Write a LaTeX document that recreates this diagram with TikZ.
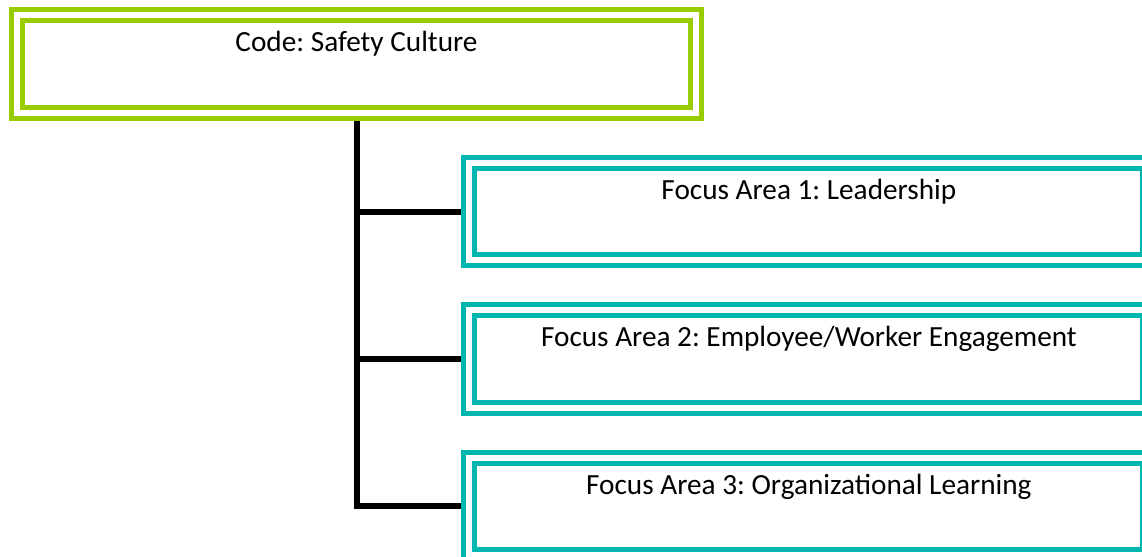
\documentclass[tikz,border=0pt]{standalone}
\usepackage{fontspec}
\setmainfont{Carlito}
\usepackage{xcolor}
\usepackage{tikz}
\usetikzlibrary{positioning,calc}
\frenchspacing

\definecolor{codegreen}{RGB}{153,204,0}
\definecolor{focusteal}{RGB}{0,183,175}

\begin{document}
\begin{tikzpicture}[x=0.025cm, y=-0.025cm, node distance=3.685cm,
  box/.style={rectangle, draw, double=white, line width=0.125cm, double distance=0.15cm, fill=white, minimum width=16.975cm, minimum height=2.4375cm, inner sep=0pt, outer sep=0.2cm},
  codebox/.style={box, draw=codegreen},
  focusbox/.style={box, draw=focusteal},
  lbl/.style={anchor=base, inner sep=0pt, font=\fontsize{20.8pt}{25pt}\selectfont},
  link/.style={draw=black, line width=0.15cm}]

  \clip (0,0) rectangle (1142,557);
  \useasboundingbox (0,0) rectangle (1142,557);

  \node [codebox] (code) at (356.5,64) {};
  \node [focusbox] (f1) at (808.85,211.6) {};
  \node [focusbox, below of=f1] (f2) {};
  \node [focusbox, below of=f2] (f3) {};

  % tree lines from the code box down to each focus area
  \path [link] (code.south) |- (f3.west);
  \path [link] (code.south |- f1.west) -- (f1.west);
  \path [link] (code.south |- f2.west) -- (f2.west);

  \node [lbl] (codetxt) at ($(code.north)+(0,44.7)$) {Code: Safety Culture};
  \node [lbl] (f1txt) at ($(f1.north)+(0,44.7)$) {Focus Area 1: Leadership};
  \node [lbl] (f2txt) at ($(f2.north)+(0,44.7)$) {Focus Area 2: Employee/Worker Engagement};
  \node [lbl] (f3txt) at ($(f3.north)+(0,44.7)$) {Focus Area 3: Organizational Learning};
\end{tikzpicture}
\end{document}
